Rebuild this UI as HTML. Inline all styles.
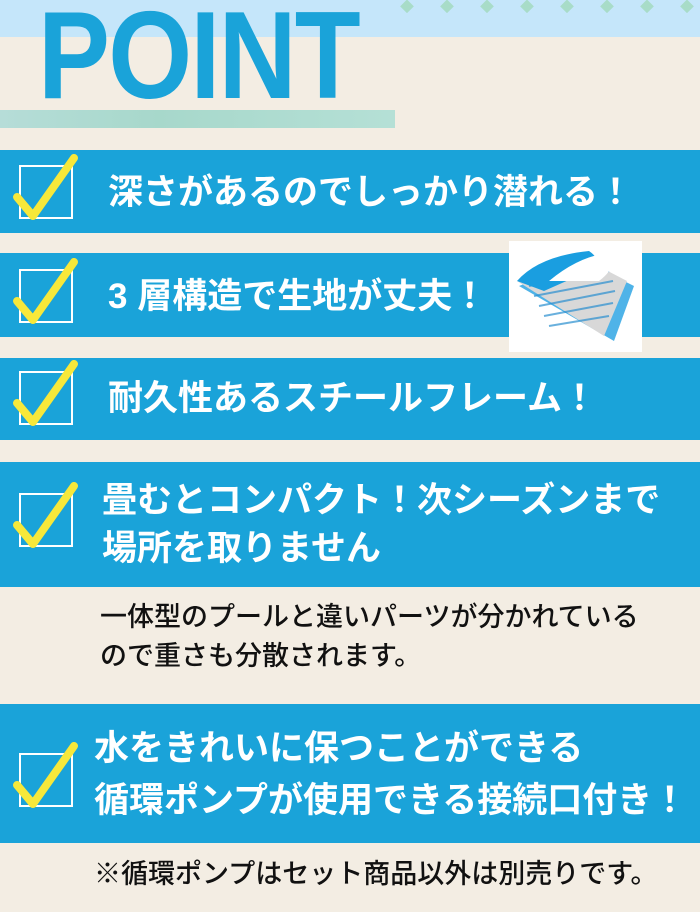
<!DOCTYPE html>
<html><head><meta charset="utf-8"><style>
*{margin:0;padding:0;box-sizing:border-box}
body{width:700px;height:912px;background:#f3ede3;position:relative;overflow:hidden;font-family:"Liberation Sans","Noto Sans CJK JP",sans-serif}
.abs{position:absolute}
.bar{position:absolute;left:0;width:700px;background:#1aa3d9}
.t{position:absolute;color:#fff;font-weight:bold;font-size:35px;white-space:nowrap;line-height:1}
.k{position:absolute;color:#111;font-size:27px;white-space:nowrap;line-height:1;font-weight:500}
</style></head><body>
<div class="abs" style="left:0;top:0;width:700px;height:37px;background:#c5e6fa"></div>
<div class="abs" style="left:400px;top:0;width:300px;height:20px;color:#a8dcc8;font-size:14px;letter-spacing:26px;line-height:14px">◆◆◆◆◆◆◆◆</div>
<div class="abs" style="left:38px;top:-6px;color:#1aa3d9;font-weight:bold;font-size:124px;line-height:1;font-family:'Liberation Sans',sans-serif;transform:scaleX(0.87);transform-origin:left top;letter-spacing:-2px">POINT</div>
<div class="abs" style="left:0;top:110px;width:395px;height:18px;background:linear-gradient(90deg,#b6ddd8,#a7d8cb 40%,#b5e0d6)"></div>

<div class="bar" style="top:150px;height:83px"></div>
<div class="bar" style="top:253px;height:84px"></div>
<div class="bar" style="top:358px;height:82px"></div>
<div class="bar" style="top:462px;height:125px"></div>
<div class="bar" style="top:704px;height:139px"></div>

<svg class="abs" style="left:0;top:0" width="700" height="912">
<g fill="none" stroke="#fff" stroke-width="2">
<rect x="20" y="166" width="52" height="52"/>
<rect x="20" y="270" width="52" height="52"/>
<rect x="20" y="372" width="52" height="52"/>
<rect x="20" y="494" width="52" height="52"/>
<rect x="20" y="754" width="52" height="52"/>
</g>
<g fill="none" stroke="#f7e83a" stroke-width="8" stroke-linecap="round" stroke-linejoin="round">
<path d="M17 197 L33 216 L74 158"/>
<path d="M17 301 L33 320 L74 262"/>
<path d="M17 403 L33 422 L74 364"/>
<path d="M17 525 L33 544 L74 486"/>
<path d="M17 785 L33 804 L74 746"/>
</g>
</svg>

<div class="t" style="left:108px;top:175px">深さがあるのでしっかり潜れる！</div>
<div class="t" style="left:108px;top:279px">3 層構造で生地が丈夫！</div>
<div class="t" style="left:108px;top:381px">耐久性あるスチールフレーム！</div>
<div class="t" style="left:102px;top:483px">畳むとコンパクト！次シーズンまで</div>
<div class="t" style="left:102px;top:531px">場所を取りません</div>
<div class="k" style="left:100px;top:604px">一体型のプールと違いパーツが分かれている</div>
<div class="k" style="left:100px;top:643px">ので重さも分散されます。</div>
<div class="t" style="left:94px;top:731px">水をきれいに保つことができる</div>
<div class="t" style="left:94px;top:783px">循環ポンプが使用できる接続口付き！</div>
<div class="k" style="left:94px;top:861px">※循環ポンプはセット商品以外は別売りです。</div>

<div class="abs" style="left:509px;top:241px;width:133px;height:111px;background:#fff;overflow:hidden">
<svg width="133" height="111">
<path d="M10 45 L75 20 L125 45 L105 100 Z" fill="#4fb3e8"/>
<path d="M8 40 L70 15 L118 40 L95 95 Z" fill="#d8d8d8"/>
<g stroke="#2a8fd0" stroke-width="2" opacity=".7">
<line x1="20" y1="45" x2="100" y2="30"/><line x1="25" y1="55" x2="104" y2="40"/><line x1="30" y1="65" x2="106" y2="50"/><line x1="35" y1="75" x2="104" y2="62"/><line x1="40" y1="85" x2="100" y2="75"/>
</g>
<path d="M8 40 Q30 15 80 10 Q95 20 80 30 L35 50 Z" fill="#1a9ee0"/>
<path d="M40 40 Q70 15 100 12 Q110 25 90 40 Z" fill="#fff"/>
</svg>
</div>
</body></html>
